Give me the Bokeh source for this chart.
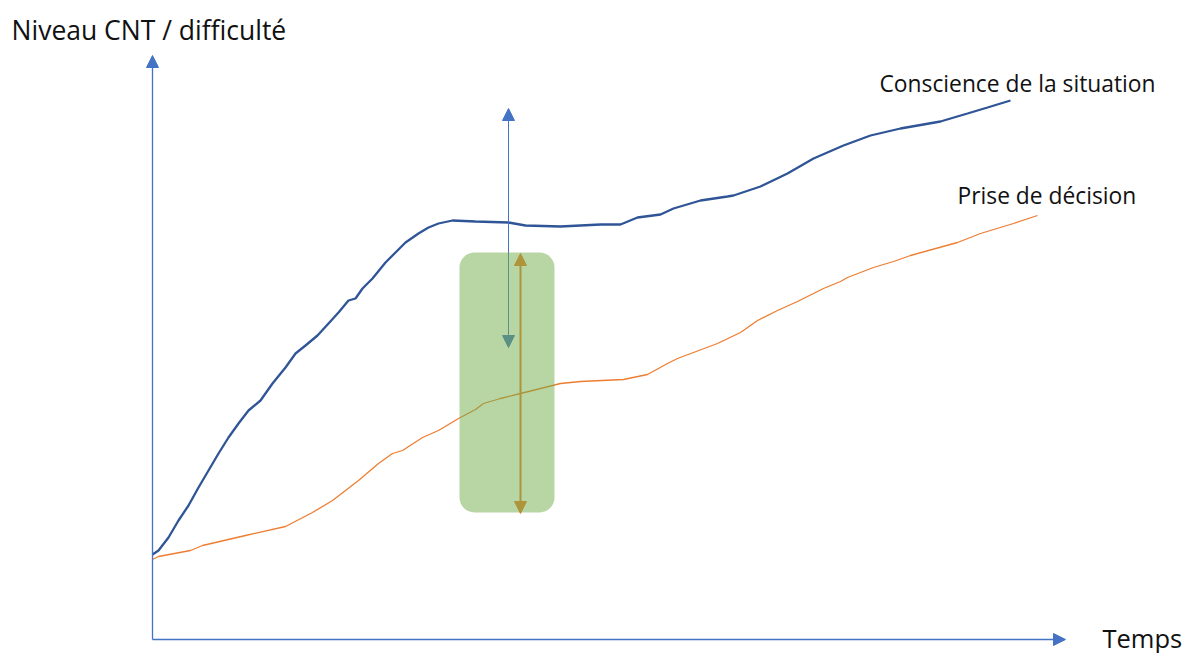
from bokeh.plotting import figure
from bokeh.models import Range1d, Arrow, NormalHead, Label, BoxAnnotation
from bokeh.embed import file_html
from bokeh.resources import INLINE

# --- data (time units / level units, origin at the axes' corner) ---
sa_time = [0, 6, 16, 26, 36, 46, 56, 66, 76, 86, 96, 108, 120, 133, 143, 153, 165, 176, 186, 196,
           203, 210, 220, 233, 243, 253, 266, 276, 286, 300, 323, 356, 373, 408, 448, 468, 485, 508,
           521, 548, 575, 581, 608, 635, 661, 691, 718, 748, 788, 798, 815, 835, 858]
sa_level = [85, 89, 102, 119, 134, 152, 169, 186, 202, 216, 229, 239, 256, 272, 286, 294, 304, 316,
            327, 339, 341, 351, 361, 377, 387, 397, 406, 412, 416, 419, 418, 417, 414, 413, 415, 415,
            422, 425, 431, 439, 443, 444, 453, 466, 481, 494, 504, 511, 518, 521, 526, 532, 539]

dm_time = [0, 6, 38, 50, 93, 133, 160, 180, 206, 226, 240, 250, 270, 286, 306, 323, 331, 348, 368,
           388, 408, 428, 471, 495, 515, 525, 565, 588, 605, 625, 645, 671, 688, 695, 721, 741, 758,
           805, 828, 861, 885]
dm_level = [80, 83, 89, 94, 104, 113, 127, 139, 159, 176, 186, 189, 202, 209, 221, 230, 236, 241, 246,
            251, 256, 258, 260, 265, 276, 281, 296, 307, 319, 329, 338, 351, 358, 362, 372, 378, 384,
            397, 406, 416, 424]

axis_max_time = 913
axis_max_level = 584

gap_time = 356            # blue double arrow (situation awareness gap)
gap_level = [292, 531]
diff_time = 368           # orange double arrow (decision difficulty)
diff_level = [126, 386]
window_time = [307, 402]  # highlighted window
window_level = [127, 387]

labels = ["Niveau CNT / difficulté", "Conscience de la situation", "Prise de décision", "Temps"]
label_time = [-141, 727, 805, 950]
label_level = [610, 556, 444, 2]
label_size = ["26.5px", "22.8px", "22.8px", "25.5px"]

BLUE_AXIS = "#4472C4"
BLUE_CURVE = "#2F5597"
ORANGE = "#ED7D31"
GREEN = "#70AD47"

p = figure(width=1184, height=653, output_backend="svg", toolbar_location=None,
           x_axis_type=None, y_axis_type=None, min_border=0,
           x_range=Range1d(-152, 1032), y_range=Range1d(-14, 639))
p.outline_line_color = None
p.background_fill_color = "white"
p.border_fill_color = "white"

# curves
p.line(sa_time, sa_level, line_color=BLUE_CURVE, line_width=2.3)
p.line(dm_time, dm_level, line_color=ORANGE, line_width=1.3)

# axes as arrows
def head(c):
    return NormalHead(size=12, fill_color=c, line_color=c, line_width=1)

p.add_layout(Arrow(x_start=0, y_start=0, x_end=0, y_end=axis_max_level, end=head(BLUE_AXIS),
                   line_color=BLUE_AXIS, line_width=1.3))
p.add_layout(Arrow(x_start=0, y_start=0, x_end=axis_max_time, y_end=0, end=head(BLUE_AXIS),
                   line_color=BLUE_AXIS, line_width=1.3))

# double arrows
p.add_layout(Arrow(x_start=gap_time, y_start=gap_level[0], x_end=gap_time, y_end=gap_level[1],
                   start=head(BLUE_AXIS), end=head(BLUE_AXIS), line_color=BLUE_AXIS, line_width=1))
p.add_layout(Arrow(x_start=diff_time, y_start=diff_level[0], x_end=diff_time, y_end=diff_level[1],
                   start=head(ORANGE), end=head(ORANGE), line_color=ORANGE, line_width=2))

# translucent green window on top
box = BoxAnnotation(left=window_time[0], right=window_time[1], bottom=window_level[0],
                    top=window_level[1], fill_color=GREEN, fill_alpha=0.5, line_color=None,
                    border_radius=15, level="overlay")
p.add_layout(box)

for t, tx, ty, fs in zip(labels, label_time, label_level, label_size):
    p.add_layout(Label(x=tx, y=ty, text=t, text_font="Open Sans", text_font_size=fs,
                       text_color="#111111", text_baseline="alphabetic", text_align="left"))

open("out.html", "w").write(file_html(p, INLINE))
